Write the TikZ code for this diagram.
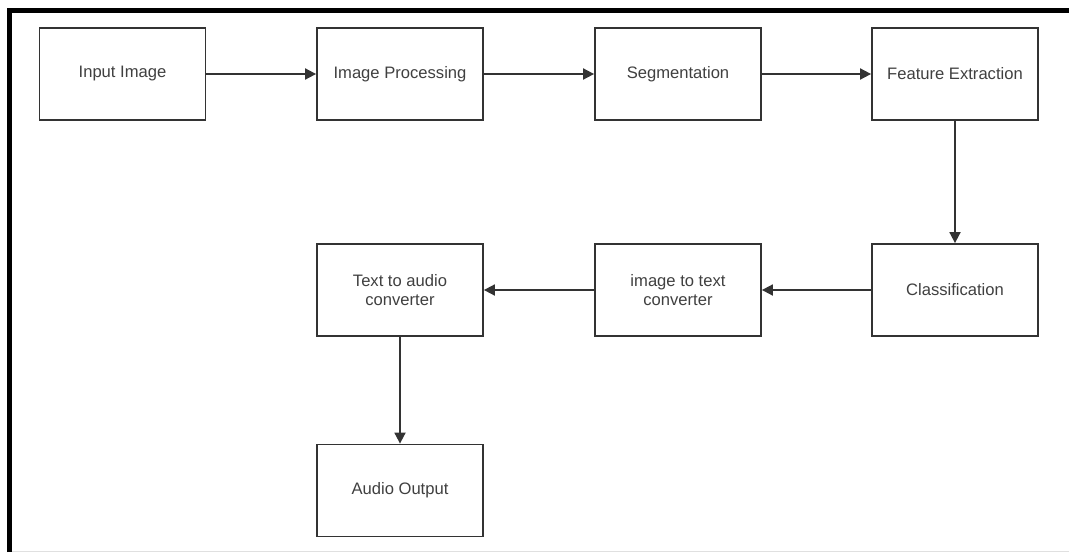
\documentclass[tikz,border=0pt]{standalone}
\usepackage{fontspec}
\setmainfont{Liberation Sans}
\usetikzlibrary{arrows.meta}
\definecolor{edgegray}{HTML}{333333}
\definecolor{textgray}{HTML}{404040}
\begin{document}
\begin{tikzpicture}[x=1pt,y=-1pt,
  stepbox/.style={draw=edgegray, line width=1.8pt, fill=white,
    minimum width=166pt, minimum height=92pt, inner sep=0pt,
    align=center, text=textgray, font=\fontsize{16.6}{19.5}\selectfont},
  flow/.style={draw=edgegray, line width=1.8pt,
    -{Triangle[length=11pt,width=11pt]}}]
  % page area and frame
  \useasboundingbox (0,0) rectangle (1069,552);
  \fill[white] (0,0) rectangle (1069,552);
  \draw[black!12, line width=1pt] (12,551.5) -- (1069,551.5);
  \draw[black, line width=5pt] (9.5,552) -- (9.5,10.5) -- (1069,10.5);

  % processing stages
  \node[stepbox] (input)   at (122.5,74)  {Input Image};
  \node[stepbox] (proc)    at (400,74)    {Image Processing};
  \node[stepbox] (seg)     at (678,74)    {Segmentation};
  \node[stepbox] (feat)    at (955,74)    {Feature Extraction};
  \node[stepbox] (cls)     at (955,290)   {Classification};
  \node[stepbox] (img2txt) at (678,290)   {image to text\\converter};
  \node[stepbox] (txt2aud) at (400,290)   {Text to audio\\converter};
  \node[stepbox] (audio)   at (400,490.5) {Audio Output};

  % connectors
  \draw[flow] (input) -- (proc);
  \draw[flow] (proc) -- (seg);
  \draw[flow] (seg) -- (feat);
  \draw[flow] (feat) -- (cls);
  \draw[flow] (cls) -- (img2txt);
  \draw[flow] (img2txt) -- (txt2aud);
  \draw[flow] (txt2aud) -- (audio);
\end{tikzpicture}
\end{document}
